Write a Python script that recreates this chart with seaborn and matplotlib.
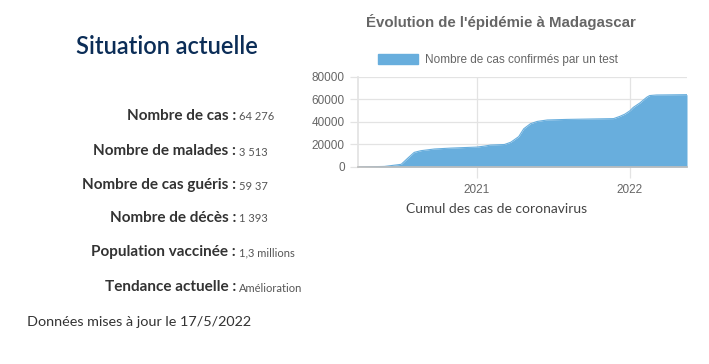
import pandas as pd
import matplotlib
matplotlib.use("Agg")
import matplotlib.pyplot as plt
import matplotlib.dates as mdates
from matplotlib.patches import Patch
import seaborn as sns

# Cumulative confirmed cases
dates = ['2020-03-24', '2020-05-26', '2020-06-27', '2020-07-05', '2020-07-21',
         '2020-08-05', '2020-08-21', '2020-09-22', '2020-10-31', '2021-01-01',
         '2021-01-18', '2021-02-03', '2021-03-08', '2021-03-23', '2021-04-11',
         '2021-04-23', '2021-05-09', '2021-05-25', '2021-06-18', '2021-08-04',
         '2021-10-22', '2021-11-23', '2021-12-08', '2021-12-20', '2022-01-01',
         '2022-01-09', '2022-01-25', '2022-02-10', '2022-02-17', '2022-03-05',
         '2022-05-17']
cases = [0, 500, 2000, 2400, 8000,
         13000, 14500, 16000, 16800, 17700,
         18500, 19500, 20000, 22000, 27000,
         34000, 38500, 40500, 41800, 42300,
         42800, 43000, 45000, 47000, 50000,
         53000, 57000, 62000, 63500, 64000,
         64300]

stat_labels = ['Nombre de cas :', 'Nombre de malades :', 'Nombre de cas guéris :',
               'Nombre de décès :', 'Population vaccinée :', 'Tendance actuelle :']
stat_values = ['64 276', '3 513', '59 37', '1 393', '1,3 millions', 'Amélioration']

df = pd.DataFrame({'date': pd.to_datetime(dates), 'cases': cases})

sns.set_theme(style="whitegrid")
plt.rcParams['font.family'] = ['Liberation Sans', 'DejaVu Sans']

W, H = 709, 364
fig = plt.figure(figsize=(W / 100, H / 100), dpi=100)
fig.patch.set_facecolor('white')

blue = '#68aedd'
grid_col = '#e3e3e3'

# chart area
ax = fig.add_axes([358 / W, 1 - 167 / H, (687 - 358) / W, (167 - 77) / H])
ax.set_facecolor('white')
sns.lineplot(data=df, x='date', y='cases', color=blue, linewidth=0.8, ax=ax)
ax.fill_between(df['date'], df['cases'], color=blue, linewidth=0)

ax.set_xlim(df['date'].min(), df['date'].max())
ax.set_ylim(0, 80000)
ax.set_yticks([0, 20000, 40000, 60000, 80000])
ax.set_yticklabels(['0', '20000', '40000', '60000', '80000'])
ax.xaxis.set_major_locator(mdates.YearLocator())
ax.xaxis.set_major_formatter(mdates.DateFormatter('%Y'))
ax.grid(True, color=grid_col, linewidth=0.9)
ax.set_xlabel('')
ax.set_ylabel('')
ax.tick_params(axis='both', colors=grid_col, labelcolor='#666666', labelsize=8.5,
               length=6, width=0.9, left=True, bottom=True)
ax.tick_params(axis='x', pad=4, length=8)
for side in ['top', 'right']:
    ax.spines[side].set_visible(False)
ax.spines['left'].set_color(grid_col)
ax.spines['bottom'].set_color('#bdbdbd')

# chart title and legend
fig.text(501 / W, 1 - 22 / H, "Évolution de l'épidémie à Madagascar",
         ha='center', va='center', fontsize=10.8, fontweight='bold', color='#666666')
fig.legend(handles=[Patch(facecolor=blue, edgecolor=blue)],
           labels=['Nombre de cas confirmés par un test'],
           loc='center', bbox_to_anchor=(498 / W, 1 - 60 / H), frameon=False,
           fontsize=8.5, labelcolor='#666666', handlelength=3.4, handleheight=1.0,
           handletextpad=0.6)

fig.text(497 / W, 1 - 209 / H, 'Cumul des cas de coronavirus',
         ha='center', va='center', fontsize=10, color='#444444', family=['Lato', 'DejaVu Sans'])

# left panel
fig.text(167 / W, 1 - 46 / H, 'Situation actuelle', ha='center', va='center',
         fontsize=17, fontweight='semibold', color='#0b2d57', family=['Lato', 'DejaVu Sans'])

rows_y = [116, 151, 185, 218, 252, 287]
for lab, val, y in zip(stat_labels, stat_values, rows_y):
    fig.text(236 / W, 1 - y / H, lab, ha='right', va='center', fontsize=11,
             fontweight='bold', color='#333333', family=['Lato', 'DejaVu Sans'])
    fig.text(239 / W, 1 - (y + 1) / H, val, ha='left', va='center', fontsize=8,
             color='#555555', family=['Lato', 'DejaVu Sans'])

fig.text(27 / W, 1 - 322 / H, 'Données mises à jour le 17/5/2022', ha='left', va='center',
         fontsize=10.4, color='#333333', family=['Lato', 'DejaVu Sans'])

fig.savefig('out.png', dpi=100, facecolor='white')
